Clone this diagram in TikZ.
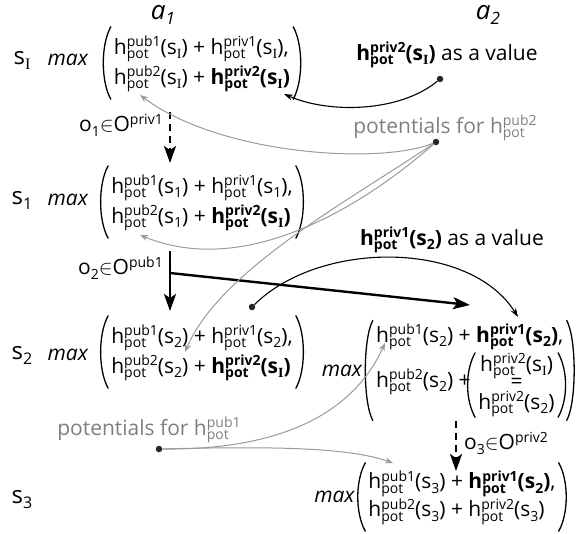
\documentclass[tikz,border=0pt]{standalone}
\usepackage{fontspec}
\setmainfont{Open Sans}
\newfontfamily\serifI{Liberation Serif}
\usetikzlibrary{arrows.meta,fit,calc}
\definecolor{gtext}{HTML}{7F7F7F}
\definecolor{gline}{HTML}{9A9A9A}
\newcommand\smallf{\fontsize{14}{14}\selectfont}
\newcommand\lowr[1]{\raisebox{-4.5pt}{\smallf #1}}
\newcommand\upr[1]{\raisebox{7.5pt}{\smallf #1}}
\newcommand\supsub[2]{{\setbox0\hbox{\upr{#1}}\setbox2\hbox{\lowr{#2}}%
  \ifdim\wd0>\wd2 \rlap{\box2}\box0\else\rlap{\box0}\box2\fi}}
\newcommand\sI{s\lowr{\serifI I}}
\newcommand\sn[1]{s\lowr{#1}}
\newcommand\hp[1]{h\supsub{#1}{pot}}
\newcommand\mx{\textit{max}}
\newcommand\inn{\hbox{$\in$}}
\newcommand\parens[1]{%
  \draw[paren] (#1.north west) .. controls +(-10,18) and +(-10,-18) .. (#1.south west);
  \draw[paren] (#1.north east) .. controls +(10,18) and +(10,-18) .. (#1.south east);}
\begin{document}
\begin{tikzpicture}[x=1pt,y=-1pt,
  every node/.style={inner sep=0pt,font=\fontsize{21}{30}\selectfont},
  blk/.style={inner xsep=3pt,inner ysep=6pt},
  paren/.style={line width=1.3pt,line cap=round},
  lbl/.style={font=\fontsize{24}{28}\selectfont},
  gtxt/.style={text=gtext},
  dotn/.style={circle,fill=black!85,minimum size=6.5pt,inner sep=0pt},
  garr/.style={draw=gline,line width=1pt,-{Stealth[length=8pt,width=6pt]}},
  barr/.style={draw=black,line width=1.1pt,-{Stealth[length=9pt,width=6pt]}},
  bigarr/.style={draw=black,line width=2.4pt,-{Stealth[length=17pt,width=12pt,inset=4pt]}},
  dsharr/.style={bigarr,dash pattern=on 7pt off 5pt}]
\useasboundingbox (0,0) rectangle (586,533);
% column headers
\node[font=\fontsize{26}{30}\selectfont] (a1) at (163,15) {\textit{a}\raisebox{-5pt}{\fontsize{17}{17}\selectfont\itshape 1}};
\node[font=\fontsize{26}{30}\selectfont] (a2) at (488,15) {\textit{a}\raisebox{-5pt}{\fontsize{17}{17}\selectfont\itshape 2}};
% state labels
\node[lbl] (lI) at (22,60) {s\raisebox{-5pt}{\fontsize{16}{16}\selectfont\serifI I}};
\node[lbl] (l1) at (22,200) {s\raisebox{-5pt}{\fontsize{16}{16}\selectfont 1}};
\node[lbl] (l2) at (22,355) {s\raisebox{-5pt}{\fontsize{16}{16}\selectfont 2}};
\node[lbl] (l3) at (22,500) {s\raisebox{-5pt}{\fontsize{16}{16}\selectfont 3}};
% left blocks
\node[blk] (bI) at (202,63) {\begin{tabular}{@{}l@{}}\hp{pub1}(\sI) + \hp{priv1}(\sI),\\ \hp{pub2}(\sI) + {\bfseries\hp{priv2}(\sI)}\end{tabular}};
\node[blk] (b1) at (202,202) {\begin{tabular}{@{}l@{}}\hp{pub1}(\sn{1}) + \hp{priv1}(\sn{1}),\\ \hp{pub2}(\sn{1}) + {\bfseries\hp{priv2}(\sI)}\end{tabular}};
\node[blk] (b2) at (202,352) {\begin{tabular}{@{}l@{}}\hp{pub1}(\sn{2}) + \hp{priv1}(\sn{2}),\\ \hp{pub2}(\sn{2}) + {\bfseries\hp{priv2}(\sI)}\end{tabular}};
\parens{bI}\parens{b1}\parens{b2}
\node (mI) at (68,60) {\mx};
\node (m1) at (68,200) {\mx};
\node (m2) at (68,355) {\mx};
% right block
\node[anchor=base west] (r1) at (376,342) {\hp{pub1}(\sn{2}) + {\bfseries\hp{priv1}(\sn{2})},};
\node[anchor=base west] (r2) at (376,387) {\hp{pub2}(\sn{2}) +};
\node[anchor=base west] (n1) at ([xshift=9pt]r2.base east |- 0,371) {\hp{priv2}(\sI)};
\node (n2) at (n1.center |- 0,383) {=};
\node[anchor=base] (n3) at (n1.base |- 0,409) {\hp{priv2}(\sn{2})};
\node[fit=(n1)(n2)(n3),inner xsep=3pt,inner ysep=0pt] (rn) {};
\parens{rn}
\node[fit=(r1)(r2)(rn),inner xsep=3pt,inner ysep=3pt] (bR) {};
\parens{bR}
\node[anchor=east] (mR) at ([xshift=-10pt]bR.west) {\mx};
% bottom block
\node[blk,font=\fontsize{21}{28}\selectfont] (bB) at (462,497) {\begin{tabular}{@{}l@{}}\hp{pub1}(\sn{3}) + {\bfseries\hp{priv1}(\sn{2})},\\ \hp{pub2}(\sn{3}) + \hp{priv2}(\sn{3})\end{tabular}};
\parens{bB}
\node[anchor=east] (mB) at ([xshift=-10pt]bB.west) {\mx};
% value texts
\node (vI) at (447,55) {{\bfseries\hp{priv2}(\sI)} as a value};
\node (v1) at (452,240) {{\bfseries\hp{priv1}(\sn{2})} as a value};
\node[gtxt] (gP2) at (445,128) {potentials for \hp{pub2}};
\node[gtxt] (gP1) at (149,430) {potentials for \hp{pub1}};
% dots
\node[dotn] (dI) at (440,79) {};
\node[dotn] (dP2) at (436,142) {};
\node[dotn] (dV1) at (252,307) {};
\node[dotn] (dP1) at (159,449) {};
% target points
\coordinate (tI) at (284,94);
\coordinate (tR) at (518,317);
\coordinate (gI) at (140,95);
\coordinate (g1) at (140,235);
\coordinate (g2) at (185,352);
\coordinate (gR) at (385,343);
\coordinate (gB) at (393,463);
% transitions
\coordinate (d1s) at (170,112);
\coordinate (d1e) at (170,163);
\draw[dsharr] (d1s) -- (d1e);
\node[anchor=east] (o1) at (163,125) {o\lowr{1}\inn O\upr{priv1}};
\coordinate (v1s) at (170,251);
\coordinate (v1e) at (170,311);
\coordinate (br) at (170,273);
\coordinate (bre) at (470,305);
\draw[bigarr] (v1s) -- (v1e);
\draw[bigarr] (br) -- (bre);
\node[anchor=east] (o2) at (163,268) {o\lowr{2}\inn O\upr{pub1}};
\coordinate (d3s) at (456,421);
\coordinate (d3e) at (456,471);
\draw[dsharr] (d3s) -- (d3e);
\node[anchor=west] (o3) at (464,443) {o\lowr{3}\inn O\upr{priv2}};
% value arrows
\draw[barr] (dI) .. controls (400,112) and (330,114) .. (tI);
\draw[barr] (dV1) .. controls (320,240) and (470,240) .. (tR);
% potentials arrows
\draw[garr] (dP2) .. controls (380,165) and (220,155) .. (gI);
\draw[garr] (dP2) .. controls (370,200) and (250,280) .. (g1);
\draw[garr] (dP2) .. controls (350,200) and (220,270) .. (g2);
\draw[garr] (dP1) .. controls (270,450) and (350,420) .. (gR);
\draw[garr] (dP1) .. controls (280,446) and (350,448) .. (gB);
\end{tikzpicture}
\end{document}
